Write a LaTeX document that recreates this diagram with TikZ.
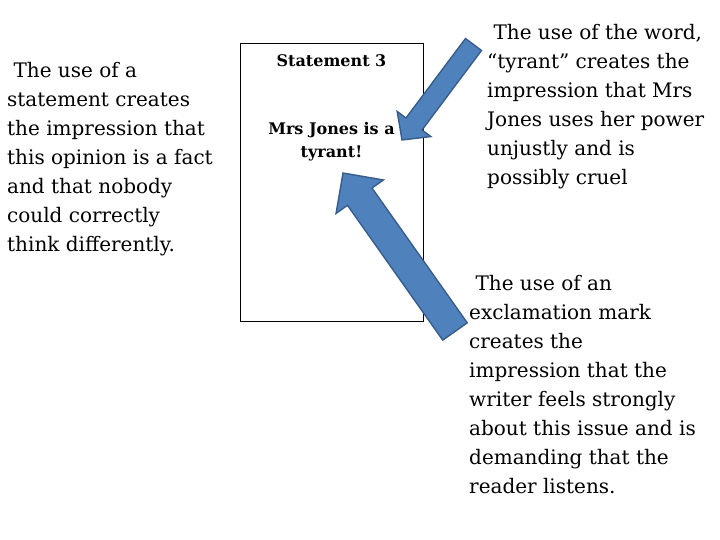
\documentclass[tikz,border=0pt]{standalone}
\usepackage{fontspec}
\setmainfont{DejaVu Serif}
\usetikzlibrary{positioning,calc}
\definecolor{ArrowFill}{HTML}{4F81BD}
\definecolor{ArrowLine}{HTML}{385D8A}
\tikzset{
  note/.style={align=left,inner sep=0pt,font=\fontsize{20}{29}\selectfont},
  cardtext/.style={align=center,inner sep=0pt,font=\bfseries\fontsize{16}{23}\selectfont},
  arrowbody/.style={fill=ArrowFill,draw=ArrowLine,line width=1.4pt,line join=miter}
}
% block arrow: tail, tip, shaft half width, head length, head half width
\newcommand{\blockarrow}[5]{%
  \coordinate (neck) at ($(#2)!#4!(#1)$);
  \filldraw[arrowbody] ($(#1)!#3!90:(#2)$) -- ($(neck)!#3!90:(#2)$) -- ($(neck)!#5!90:(#2)$)
    -- (#2) -- ($(neck)!#5!-90:(#2)$) -- ($(neck)!#3!-90:(#2)$) -- ($(#1)!#3!-90:(#2)$) -- cycle;
}

\begin{document}
\begin{tikzpicture}[x=1pt,y=-1pt]
  \useasboundingbox (0,0) rectangle (720,540);
  \node[draw,line width=0.8pt,minimum width=183pt,minimum height=278pt,inner sep=0pt] (card) at (331.5,182){};
  \node[cardtext,below=12pt of card.north] (title){Statement 3};
  \node[cardtext,below=80pt of card.north] (claim){Mrs Jones is a\\tyrant!};

  \node[note,anchor=west] (fact) at (7,159.5){~The use of a\\statement creates\\the impression that\\this opinion is a fact\\and that nobody\\could correctly\\think differently.};
  \node[note,anchor=west] (word) at (487,107){~The use of the word,\\``tyrant'' creates the\\impression that Mrs\\Jones uses her power\\unjustly and is\\possibly cruel};
  \node[note,anchor=west] (mark) at (469,385){~The use of an\\exclamation mark\\creates the\\impression that the\\writer feels strongly\\about this issue and is\\demanding that the\\reader listens.};

  \coordinate (wordtail) at (473.5,44.5);
  \coordinate (wordtip) at (402,140);
  \coordinate (marktail) at (455,331.5);
  \coordinate (marktip) at (343,173);
  \blockarrow{wordtail}{wordtip}{10pt}{20pt}{21pt}
  \blockarrow{marktail}{marktip}{15pt}{29pt}{29pt}
\end{tikzpicture}
\end{document}
